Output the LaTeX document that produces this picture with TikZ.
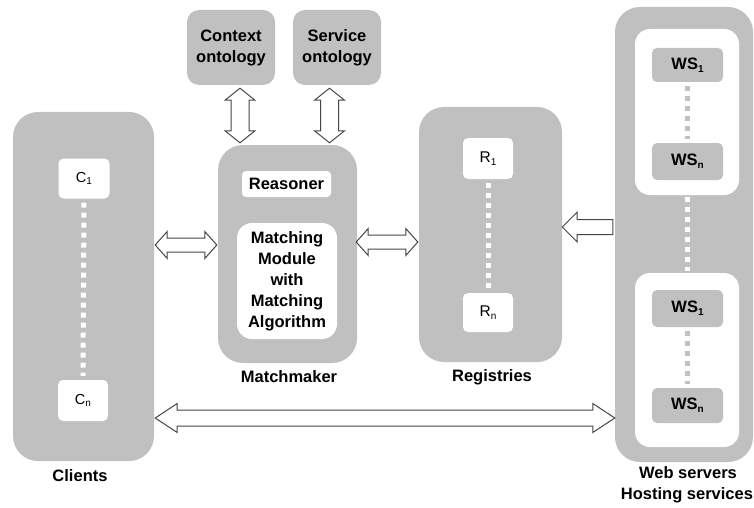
\documentclass[tikz,border=0pt]{standalone}
\usepackage{fontspec}
\setmainfont{Liberation Sans}
\usetikzlibrary{calc}
\definecolor{boxgray}{RGB}{192,192,192}
\definecolor{arrowedge}{RGB}{70,70,70}
\newcommand\mysub[1]{\raisebox{-0.35ex}{\fontsize{10}{10}\selectfont #1}}
% horizontal double arrow: #1 left tip, #2 right tip, #3 half shaft, #4 half head, #5 head length
\newcommand\hdarrow[5]{\draw[arrowline] (#1) -- ++(#5,-#4) -- ++(0,#4-#3) -- ($(#2)+(-#5,-#3)$) -- ++(0,#3-#4) -- (#2) -- ++(-#5,#4) -- ++(0,#3-#4) -- ($(#1)+(#5,#3)$) -- ++(0,#4-#3) -- cycle;}
% vertical double arrow: #1 top tip, #2 bottom tip
\newcommand\vdarrow[5]{\draw[arrowline] (#1) -- ++(-#4,#5) -- ++(#4-#3,0) -- ($(#2)+(-#3,-#5)$) -- ++(#3-#4,0) -- (#2) -- ++(#4,-#5) -- ++(#3-#4,0) -- ($(#1)+(#3,#5)$) -- ++(#4-#3,0) -- cycle;}
% single left arrow: #1 tip, #2 tail centre
\newcommand\lsarrow[5]{\draw[arrowline] (#1) -- ++(#5,-#4) -- ++(0,#4-#3) -- ($(#2)+(0,-#3)$) -- ($(#2)+(0,#3)$) -- ($(#1)+(#5,#3)$) -- ++(0,#4-#3) -- cycle;}
\tikzset{
  bigbox/.style={rectangle, fill=boxgray, rounded corners=25pt, inner sep=0pt},
  ontobox/.style={rectangle, fill=boxgray, rounded corners=12pt, inner sep=0pt,
    align=center, font=\fontsize{16.5}{21}\selectfont\bfseries},
  whitebox/.style={rectangle, fill=white, rounded corners=5pt, inner sep=0pt},
  innerbox/.style={rectangle, fill=white, rounded corners=15pt, inner sep=0pt},
  wsbox/.style={rectangle, fill=boxgray, rounded corners=5pt, inner sep=0pt,
    font=\fontsize{16.5}{20}\selectfont\bfseries},
  itemlbl/.style={font=\fontsize{14.5}{17}\selectfont},
  boldlbl/.style={align=center, font=\fontsize{16.5}{21}\selectfont\bfseries},
  wdots/.style={draw=white, line width=5pt, dash pattern=on 5pt off 5pt},
  gdots/.style={draw=boxgray, line width=5pt, dash pattern=on 5pt off 5pt},
  arrowline/.style={draw=arrowedge, line width=1pt, fill=white, line join=miter},
}
\begin{document}
\begin{tikzpicture}[x=1pt,y=-1pt]
\useasboundingbox[fill=white] (0,0) rectangle (754,508);

% Clients
\node[bigbox, minimum width=141pt, minimum height=349pt] (clients) at (83.5,286.5) {};
\node[whitebox, itemlbl, minimum width=51pt, minimum height=40pt] (c1) at (84,178.5) {C\mysub{1}};
\node[whitebox, itemlbl, minimum width=50pt, minimum height=41pt] (cn) at (83,400.5) {C\mysub{n}};
\draw[wdots] ([yshift=-4pt]c1.south) -- ([yshift=4pt]cn.north);
\node[boldlbl] (clientslbl) at (80,476) {Clients};

% Ontologies
\node[ontobox, minimum width=88pt, minimum height=75pt] (ctx) at (231,47.5) {Context\\ontology};
\node[ontobox, minimum width=88pt, minimum height=75pt] (srv) at (337,47.5) {Service\\ontology};

% Matchmaker
\node[bigbox, minimum width=139pt, minimum height=218pt] (mm) at (287.5,254) {};
\node[whitebox, rounded corners=4pt, boldlbl, minimum width=89pt, minimum height=26pt] (reas) at (286.5,184) {Reasoner};
\node[innerbox, boldlbl, minimum width=100pt, minimum height=116pt] (match) at (287,281) {Matching\\Module\\with\\Matching\\Algorithm};
\node[boldlbl] (mmlbl) at (289,377) {Matchmaker};

% Registries
\node[bigbox, minimum width=143pt, minimum height=255pt] (reg) at (490.5,234.5) {};
\node[whitebox, itemlbl, font=\fontsize{15.5}{18}\selectfont, minimum width=50pt, minimum height=41pt] (r1) at (488,158.5) {R\mysub{1}};
\node[whitebox, itemlbl, font=\fontsize{15.5}{18}\selectfont, minimum width=50pt, minimum height=39pt] (rn) at (488,312.5) {R\mysub{n}};
\draw[wdots] ([yshift=-4pt]r1.south) -- ([yshift=4pt]rn.north);
\node[boldlbl] (reglbl) at (492,377) {Registries};

% Web servers
\node[bigbox, minimum width=138pt, minimum height=455pt] (web) at (684,234.5) {};
\node[innerbox, minimum width=104pt, minimum height=166pt] (in1) at (687,112) {};
\node[innerbox, minimum width=104pt, minimum height=174pt] (in2) at (687,360) {};
\draw[wdots] ([yshift=-2pt]in1.south) -- ([yshift=2pt]in2.north);
\node[wsbox, minimum width=71pt, minimum height=34pt] (ws1a) at (687.5,65) {WS\mysub{1}};
\node[wsbox, minimum width=71pt, minimum height=37pt] (wsna) at (687.5,161.5) {WS\mysub{n}};
\node[wsbox, minimum width=71pt, minimum height=37pt] (ws1b) at (687.5,308.5) {WS\mysub{1}};
\node[wsbox, minimum width=71pt, minimum height=35pt] (wsnb) at (687.5,405.5) {WS\mysub{n}};
\draw[gdots] ([yshift=-4pt]ws1a.south) -- ([yshift=4pt]wsna.north);
\draw[gdots] ([yshift=-4pt]ws1b.south) -- ([yshift=4pt]wsnb.north);
\node[boldlbl] (weblbl) at (688,473) {Web servers};
\node[boldlbl] (hostlbl) at (687,495) {Hosting services};

% Arrows
\coordinate (cmL) at ($(clients.east |- 0,245)+(1,0)$);
\coordinate (cmR) at ($(mm.west |- 0,245)+(-1,0)$);
\hdarrow{cmL}{cmR}{7}{13.5}{12}
\coordinate (mrL) at ($(mm.east |- 0,242)+(-1,0)$);
\coordinate (mrR) at ($(reg.west |- 0,242)+(-1,0)$);
\hdarrow{mrL}{mrR}{7}{13.5}{12}
\coordinate (ctT) at ($(ctx.south -| 240,0)+(0,3)$);
\coordinate (ctB) at ($(mm.north -| 240,0)+(0,-2)$);
\vdarrow{ctT}{ctB}{9}{15}{12}
\coordinate (svT) at ($(srv.south -| 329.5,0)+(0,3)$);
\coordinate (svB) at ($(mm.north -| 329.5,0)+(0,-2)$);
\vdarrow{svT}{svB}{9}{15}{12}
\coordinate (wrT) at ($(reg.east |- 0,227)$);
\coordinate (wrE) at ($(web.west |- 0,227)+(-2,0)$);
\lsarrow{wrT}{wrE}{7.5}{15}{15}
\coordinate (cwL) at ($(clients.east |- 0,418)+(1,0)$);
\coordinate (cwR) at ($(web.west |- 0,418)$);
\hdarrow{cwL}{cwR}{8}{14.5}{22}
\end{tikzpicture}
\end{document}
